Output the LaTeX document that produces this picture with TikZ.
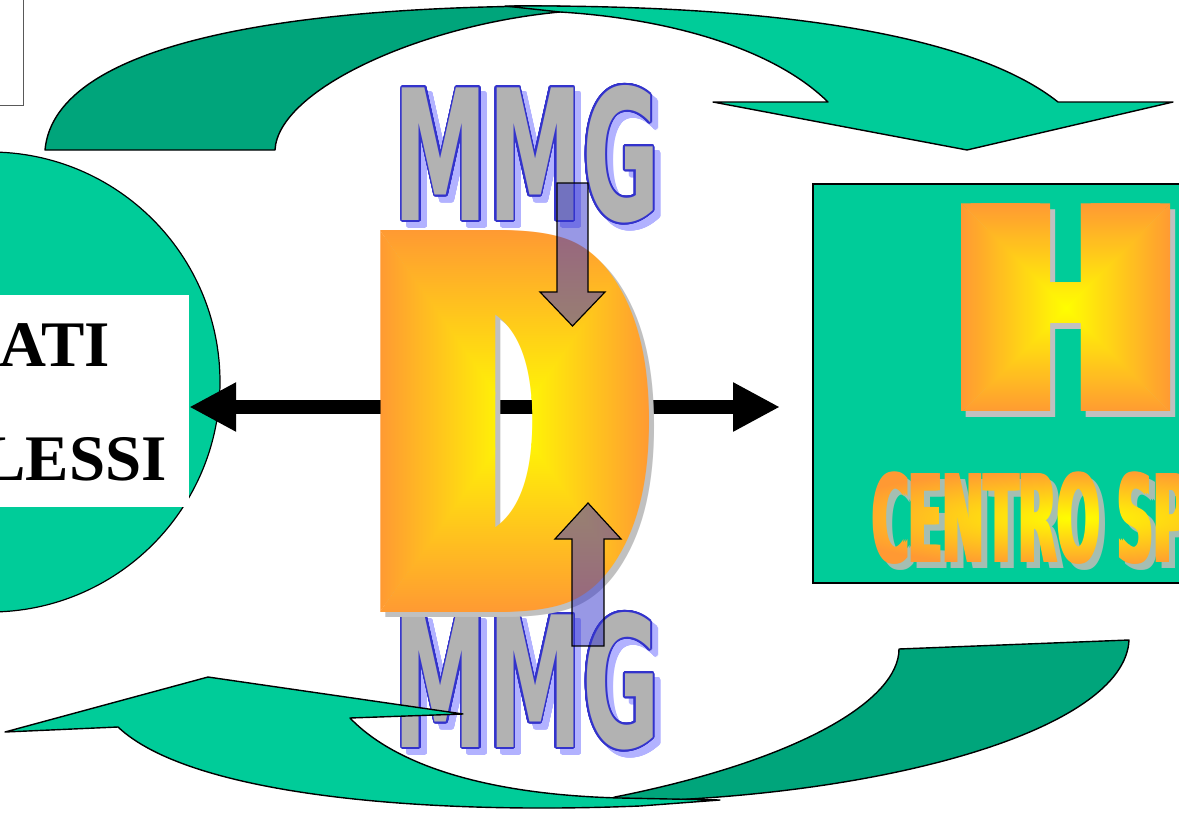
\documentclass[tikz,border=0pt]{standalone}
\usepackage{graphicx}
\usepackage{fontspec}
\setmainfont{Liberation Serif}
\newfontfamily\heavyfont{DejaVu Sans}
\newfontfamily\mmgfont{DejaVu Sans}[FakeStretch=0.52]
\usepackage[copies]{contour}
\contourlength{1.7pt}
\contournumber{32}
\usetikzlibrary{arrows.meta,fadings}

\definecolor{seagreen}{RGB}{0,204,153}
\definecolor{deepgreen}{RGB}{0,165,123}
\definecolor{mmggray}{RGB}{178,178,178}
\definecolor{mmgblue}{RGB}{51,51,204}
\definecolor{mmgshade}{RGB}{178,178,255}
\definecolor{letterorange}{RGB}{255,153,51}
\definecolor{letteryellow}{RGB}{255,255,0}
\definecolor{lettershadow}{RGB}{192,192,192}
\definecolor{textshadow}{RGB}{165,190,178}

% big display glyphs
\newcommand\glyphD{\scalebox{0.589}[1]{\heavyfont\bfseries\fontsize{524}{524}\selectfont D}}
\newcommand\glyphH{\scalebox{0.905}[1]{\heavyfont\bfseries\fontsize{285}{285}\selectfont H}}
\newcommand\wordCentro{\scalebox{0.41}[1]{\heavyfont\bfseries\fontsize{122}{122}\selectfont CENTRO SP}}
\newcommand\wordMMG{\mmgfont\bfseries\fontsize{182}{182}\selectfont MMG}

% horizontal offsets used to widen the strokes of the display letters
\newcommand\dspread{-28.5,-19,-9.5,0,9.5,19,28.5}
\newcommand\hspread{-20.8,-10.4,0,10.4,20.8}
\newcommand\cspread{-2,0,2}

% masks that restrict the gradient fills to the letter shapes
\begin{tikzfadingfrompicture}[name=fadeD,x=1pt,y=-1pt]
  \path (-400,-400) rectangle (400,400);
  \foreach \dx [count=\i] in \dspread
    \node[inner sep=0pt,text=transparent!0] (dmask\i) at ({-6+\dx},0) {\glyphD};
\end{tikzfadingfrompicture}
\begin{tikzfadingfrompicture}[name=fadeH,x=1pt,y=-1pt]
  \path (-400,-400) rectangle (400,400);
  \foreach \dx [count=\i] in \hspread
    \node[inner sep=0pt,text=transparent!0] (hmask\i) at (\dx,0) {\glyphH};
\end{tikzfadingfrompicture}
\begin{tikzfadingfrompicture}[name=fadeCentro,x=1pt,y=-1pt]
  \path (-400,-400) rectangle (400,400);
  \foreach \dx [count=\i] in \cspread
    \node[inner sep=0pt,text=transparent!0] (cmask\i) at ({-44+\dx},0) {\wordCentro};
\end{tikzfadingfrompicture}

% "from centre" rectangular gradient, clipped by a mask; #1 mask, #2/#3 half sizes
\newcommand\rectgrad[3]{%
  \shade[path fading=#1,fit fading=false,top color=letterorange,bottom color=letteryellow]
    (-#2-1,-#3-1) -- (#2+1,-#3-1) -- (0,1) -- cycle;
  \shade[path fading=#1,fit fading=false,top color=letteryellow,bottom color=letterorange]
    (-#2-1,#3+1) -- (#2+1,#3+1) -- (0,-1) -- cycle;
  \shade[path fading=#1,fit fading=false,left color=letterorange,right color=letteryellow]
    (-#2-1,-#3-1) -- (-#2-1,#3+1) -- (1,0) -- cycle;
  \shade[path fading=#1,fit fading=false,left color=letteryellow,right color=letterorange]
    (#2+1,-#3-1) -- (#2+1,#3+1) -- (-1,0) -- cycle;}

\begin{document}
\begin{tikzpicture}[x=1pt,y=-1pt,
  edge/.style={draw=black,line width=1.4pt,line join=round},
  bigarrow/.style={line width=14pt,{Triangle[length=47pt,width=46pt]}-{Triangle[length=47pt,width=46pt]}},
  blockarrow/.style={fill=mmgblue,fill opacity=0.5,draw=black,line width=1.2pt,line join=miter},
  mmgtext/.style={inner sep=0pt},
  serifline/.style={inner sep=0pt,anchor=base east,font=\fontsize{65}{65}\selectfont\bfseries}]
\useasboundingbox (0,0) rectangle (1179,814);
\clip (0,0) rectangle (1179,814);
\fill[white] (0,0) rectangle (1179,814);

% small framed box in the corner
\node[draw=black!65,line width=0.8pt,fill=white,anchor=south east,
      minimum width=60pt,minimum height=130pt] (corner) at (24,106) {};

% left disc with the white label panel
\node[circle,draw=black,line width=1.2pt,fill=seagreen,minimum size=460pt,inner sep=0pt]
  (bubble) at (-10,382) {};
\node[fill=white,minimum width=199pt,minimum height=212pt,inner sep=0pt]
  (results) at (89.5,401) {};
\node[serifline] (lineone) at (110,366) {ATI};
\node[serifline] (linetwo) at (167,480) {LESSI};

% right panel
\node[draw=black,line width=1.5pt,fill=seagreen,minimum width=400pt,minimum height=399pt,
      inner sep=0pt,anchor=north west] (centre) at (812,183) {};

% horizontal double arrow
\coordinate (axis) at (0,407);
\draw[bigarrow,shorten >=32pt] (results.east |- axis) -- (centre.west |- axis);

% MMG labels with outline and shadow
\node[mmgtext,text=mmgshade] (mmgtopshadow) at (533,161) {\contour{mmgshade}{\wordMMG}};
\node[mmgtext,text=mmggray] (mmgtop) at (527,155) {\contour{mmgblue}{\wordMMG}};
\node[mmgtext,text=mmgshade] (mmgbotshadow) at (533,688) {\contour{mmgshade}{\wordMMG}};
\node[mmgtext,text=mmggray] (mmgbot) at (527,682) {\contour{mmgblue}{\wordMMG}};

% upper curved arrow
\filldraw[edge,fill=deepgreen] (45,150) .. controls (55,40) and (300,6) .. (560,6)
  -- (560,12) .. controls (420,25) and (278,90) .. (275,150) -- cycle;
\filldraw[edge,fill=seagreen] (505,6) .. controls (800,4) and (980,40) .. (1058,102)
  -- (1173,102) -- (967,150) -- (713,102) -- (828,102)
  .. controls (770,45) and (660,18) .. (560,12) -- cycle;

% lower curved arrow
\filldraw[edge,fill=deepgreen] (1129,640) .. controls (1125,730) and (880,800) .. (600,802)
  -- (615,797) .. controls (800,760) and (899,700) .. (899,649) -- cycle;
\filldraw[edge,fill=seagreen] (5,732) -- (208,677) -- (463,714) -- (350,718)
  .. controls (400,770) and (500,795) .. (620,798) -- (720,800) -- (640,806)
  .. controls (420,815) and (190,795) .. (118,727) -- cycle;

% central letter D
\begin{scope}[transform canvas={shift={(515,421)}}]
  \foreach \dx [count=\i] in \dspread
    \node[inner sep=0pt,text=lettershadow] (dshadow\i) at ({-1+\dx},5) {\glyphD};
  \rectgrad{fadeD}{135}{191}
\end{scope}

% letter H
\begin{scope}[transform canvas={shift={(1066,308)}}]
  \foreach \dx [count=\i] in \hspread
    \node[inner sep=0pt,text=lettershadow] (hshadow\i) at ({5+\dx},6) {\glyphH};
  \rectgrad{fadeH}{104}{104}
\end{scope}

% caption inside the right panel
\begin{scope}[transform canvas={shift={(1075,518)}}]
  \foreach \dx [count=\i] in \cspread
    \node[inner sep=0pt,text=textshadow] (cshadow\i) at ({-38+\dx},6) {\wordCentro};
  \shade[path fading=fadeCentro,fit fading=false,inner color=letteryellow,outer color=letterorange]
    (-250,-50) rectangle (250,50);
\end{scope}

% vertical block arrows
\coordinate (dtail) at (572.5,183);
\coordinate (dtip) at (572.5,326);
\draw[blockarrow] (dtail) ++(-15.5,0) -- ++(31,0) -- ++(0,109) -- ++(17,0) -- (dtip)
  -- ++(-32.5,-34) -- ++(17,0) -- cycle;
\coordinate (utail) at (588,646);
\coordinate (utip) at (588,503);
\draw[blockarrow] (utail) ++(-16,0) -- ++(32,0) -- ++(0,-107) -- ++(17,0) -- (utip)
  -- ++(-33,36) -- ++(17,0) -- cycle;
\end{tikzpicture}
\end{document}
